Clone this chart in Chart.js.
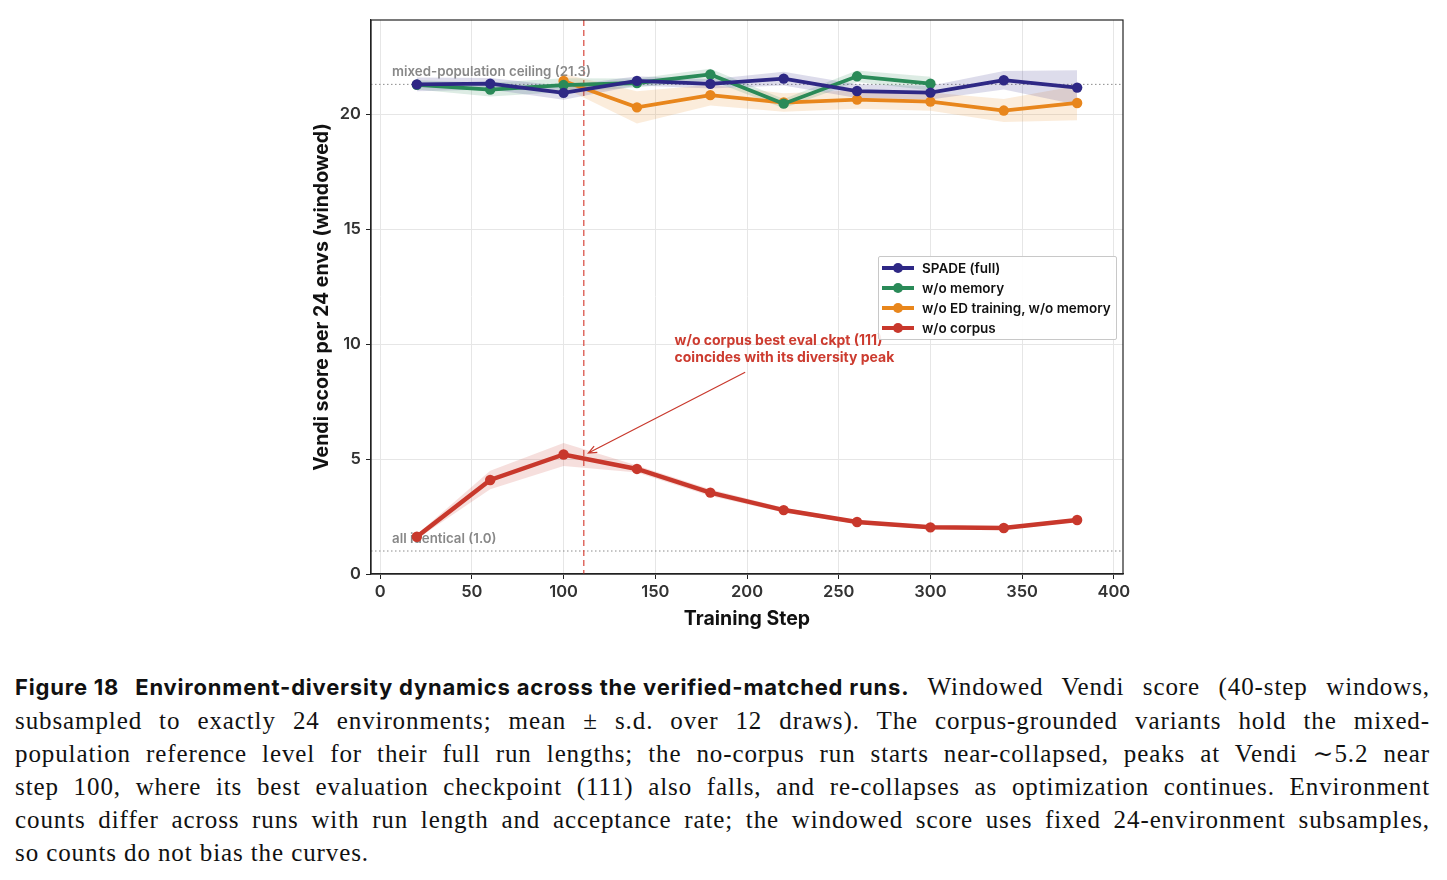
<!DOCTYPE html>
<html>
<head>
<meta charset="utf-8">
<script src="https://cdn.jsdelivr.net/npm/chart.js@4.4.1/dist/chart.umd.min.js"></script>
<style>
  body { margin: 0; background: #fff; width: 1447px; height: 880px; overflow: hidden; position: relative; }
  #wrap { position: absolute; left: 0; top: 0; width: 1447px; height: 631px; }
  #legend {
    position: absolute; left: 878px; top: 256px; width: 239px; height: 84px;
    border: 1px solid #c8c8c8; border-radius: 2px; background: rgba(255,255,255,0.9);
    font-family: Inter, "Noto Sans", sans-serif; font-weight: 600; font-size: 13.5px; color: #111;
    padding-top: 1px; box-sizing: border-box;
  }
  .item { height: 20px; display: flex; align-items: center; }
  .sym { position: relative; width: 32px; height: 4px; margin-left: 3px; margin-right: 8px; }
  .sym i { position: absolute; left: 11px; top: -3px; width: 10px; height: 10px; border-radius: 50%; }
  #caption {
    position: absolute; left: 15px; top: 670px; width: 1415px;
    font-family: "Liberation Serif", "DejaVu Serif", serif; font-size: 25px; letter-spacing: 0.9px;
    line-height: 33px; color: #111;
  }
  #caption div { text-align: justify; text-align-last: justify; white-space: nowrap; }
  #caption div.last { text-align-last: left; }
  #caption b { display: inline-block; font-family: Inter, "Noto Sans", sans-serif; font-weight: 700; font-size: 22px; letter-spacing: 0.8px; }
  #caption b span { margin-right: 10px; }
</style>
</head>
<body>
<div id="wrap"><canvas id="chart" width="1447" height="631"></canvas></div>
<div id="legend"></div>
<div id="caption">
  <div><b><span>Figure 18</span> Environment-diversity dynamics across the verified-matched runs.</b> Windowed Vendi score (40-step windows,</div>
  <div>subsampled to exactly 24 environments; mean ± s.d. over 12 draws). The corpus-grounded variants hold the mixed-</div>
  <div>population reference level for their full run lengths; the no-corpus run starts near-collapsed, peaks at Vendi ∼5.2 near</div>
  <div>step 100, where its best evaluation checkpoint (111) also falls, and re-collapses as optimization continues. Environment</div>
  <div>counts differ across runs with run length and acceptance rate; the windowed score uses fixed 24-environment subsamples,</div>
  <div class="last">so counts do not bias the curves.</div>
</div>
<script>
// === Data ===
const steps = [20, 60, 100, 140, 180, 220, 260, 300, 340, 380];
const xTicks = [0, 50, 100, 150, 200, 250, 300, 350, 400];
const yTicks = [0, 5, 10, 15, 20];

const seriesNames = ["SPADE (full)", "w/o memory", "w/o ED training, w/o memory", "w/o corpus"];
const seriesColors = ["#2e2885", "#2a8a58", "#e8861c", "#c8382c"];

const spadeMean = [21.30, 21.33, 20.93, 21.45, 21.32, 21.55, 21.01, 20.94, 21.48, 21.16];
const spadeSd = [0.30, 0.25, 0.30, 0.20, 0.20, 0.30, 0.30, 0.30, 0.40, 0.75];
const noMemoryMean = [21.28, 21.07, 21.27, 21.36, 21.73, 20.46, 21.65, 21.33, null, null];
const noMemorySd = [0.20, 0.30, 0.30, 0.20, 0.25, 0.20, 0.25, 0.30, null, null];
const noEdMean = [null, null, 21.45, 20.30, 20.83, 20.51, 20.64, 20.55, 20.16, 20.49];
const noEdSd = [null, null, 0.30, 0.70, 0.45, 0.40, 0.40, 0.40, 0.50, 0.75];
const noCorpusMean = [1.62, 4.09, 5.20, 4.57, 3.54, 2.78, 2.26, 2.03, 2.00, 2.35];
const noCorpusSd = [0.10, 0.40, 0.50, 0.15, 0.15, 0.10, 0.08, 0.08, 0.08, 0.08];

const ceiling = 21.3;
const floor = 1.0;
const bestCkpt = 111;

const means = [spadeMean, noMemoryMean, noEdMean, noCorpusMean];
const sds = [spadeSd, noMemorySd, noEdSd, noCorpusSd];

function alpha(hex, a) {
  const n = parseInt(hex.slice(1), 16);
  return `rgba(${n >> 16}, ${(n >> 8) & 255}, ${n & 255}, ${a})`;
}

// === Datasets: band (upper/lower) + line per run ===
const datasets = [];
means.forEach((m, i) => {
  const pts = (sign) => steps.map((x, j) => ({ x, y: m[j] == null ? null : m[j] + sign * sds[i][j] }));
  datasets.push({
    label: "band-hi", data: pts(1), borderWidth: 0, pointRadius: 0,
    backgroundColor: alpha(seriesColors[i], 0.16), fill: "+1", order: 10 + i
  });
  datasets.push({
    label: "band-lo", data: pts(-1), borderWidth: 0, pointRadius: 0,
    fill: false, order: 10 + i
  });
});
means.forEach((m, i) => {
  datasets.push({
    label: seriesNames[i],
    data: steps.map((x, j) => ({ x, y: m[j] })),
    borderColor: seriesColors[i],
    backgroundColor: seriesColors[i],
    borderWidth: i === 3 ? 4.5 : 3.8,
    pointRadius: 5.2,
    pointBorderWidth: 0,
    fill: false,
    order: i
  });
});

// === Reference lines + annotation ===
const refLines = {
  id: "refLines",
  beforeDatasetsDraw(chart) {
    const { ctx, chartArea: a, scales: { x, y } } = chart;
    ctx.save();
    ctx.strokeStyle = "#8a8a8a";
    ctx.lineWidth = 1;
    ctx.setLineDash([1.5, 2.5]);
    [ceiling, floor].forEach(v => {
      ctx.beginPath();
      ctx.moveTo(a.left, y.getPixelForValue(v));
      ctx.lineTo(a.right, y.getPixelForValue(v));
      ctx.stroke();
    });
    ctx.setLineDash([6, 4]);
    ctx.strokeStyle = "rgba(215, 70, 60, 0.8)";
    ctx.lineWidth = 1.5;
    ctx.beginPath();
    ctx.moveTo(x.getPixelForValue(bestCkpt), a.top);
    ctx.lineTo(x.getPixelForValue(bestCkpt), a.bottom);
    ctx.stroke();
    ctx.setLineDash([]);
    ctx.fillStyle = "#888";
    ctx.font = "600 13.3px Inter, 'Noto Sans', sans-serif";
    ctx.textBaseline = "alphabetic";
    ctx.fillText(`mixed-population ceiling (${ceiling})`, x.getPixelForValue(6.5), y.getPixelForValue(ceiling) - 8);
    ctx.fillText(`all identical (${floor.toFixed(1)})`, x.getPixelForValue(6.5), y.getPixelForValue(floor) - 8);
    ctx.restore();
  },
  afterDatasetsDraw(chart) {
    const { ctx, chartArea: a, scales: { x, y } } = chart;
    ctx.save();
    // arrow from text to the peak
    const x0 = x.getPixelForValue(199), y0 = y.getPixelForValue(8.78);
    const x1 = x.getPixelForValue(113.5), y1 = y.getPixelForValue(5.26);
    ctx.strokeStyle = "#c8382c";
    ctx.lineWidth = 1.2;
    ctx.beginPath();
    ctx.moveTo(x0, y0);
    ctx.lineTo(x1, y1);
    const ang = Math.atan2(y1 - y0, x1 - x0);
    ctx.moveTo(x1 - 9 * Math.cos(ang - 0.4), y1 - 9 * Math.sin(ang - 0.4));
    ctx.lineTo(x1, y1);
    ctx.lineTo(x1 - 9 * Math.cos(ang + 0.4), y1 - 9 * Math.sin(ang + 0.4));
    ctx.stroke();
    ctx.fillStyle = "#cc3b2f";
    ctx.font = "700 14px Inter, 'Noto Sans', sans-serif";
    ctx.textBaseline = "middle";
    const tx = x.getPixelForValue(160.5), ty = y.getPixelForValue(10.13);
    ctx.fillText(`w/o corpus best eval ckpt (${bestCkpt})`, tx, ty);
    ctx.fillText("coincides with its diversity peak", tx, ty + 17);
    // top + right spines
    ctx.strokeStyle = "#222";
    ctx.lineWidth = 1.2;
    ctx.strokeRect(a.left, a.top, a.right - a.left, a.bottom - a.top);
    ctx.restore();
  }
};

const tickFont = { family: "Inter, 'Noto Sans', sans-serif", size: 16.5, weight: "600" };
const titleFont = { family: "Inter, 'Noto Sans', sans-serif", size: 19.5, weight: "700" };

new Chart(document.getElementById("chart"), {
  type: "line",
  data: { datasets },
  options: {
    responsive: false,
    animation: false,
    layout: { padding: { left: 310, top: 20, right: 324, bottom: 0 } },
    plugins: {
      legend: { display: false },
      tooltip: { enabled: false }
    },
    scales: {
      x: {
        type: "linear", min: -5, max: 405,
        afterBuildTicks: s => { s.ticks = xTicks.map(v => ({ value: v })); },
        afterFit: s => { s.height = 57; },
        grid: { color: "#e6e6e6", tickColor: "#222", tickLength: 5 },
        border: { color: "#222", width: 1.2 },
        ticks: { font: tickFont, color: "#333", padding: 3 },
        title: { display: true, text: "Training Step", font: titleFont, color: "#111", padding: { top: 0, bottom: 0 } }
      },
      y: {
        type: "linear", min: 0, max: 24.1,
        afterBuildTicks: s => { s.ticks = yTicks.map(v => ({ value: v })); },
        afterFit: s => { s.width = 61; },
        grid: { color: "#e6e6e6", tickColor: "#222", tickLength: 5 },
        border: { color: "#222", width: 1.2 },
        ticks: { font: tickFont, color: "#333", padding: 5 },
        title: { display: true, text: "Vendi score per 24 envs (windowed)", font: titleFont, color: "#111", padding: { top: 0, bottom: 0 } }
      }
    }
  },
  plugins: [refLines]
});

// === HTML legend ===
const legend = document.getElementById("legend");
seriesNames.forEach((name, i) => {
  const row = document.createElement("div");
  row.className = "item";
  row.innerHTML = `<span class="sym" style="background:${seriesColors[i]}"><i style="background:${seriesColors[i]}"></i></span>${name}`;
  legend.appendChild(row);
});
</script>
</body>
</html>
